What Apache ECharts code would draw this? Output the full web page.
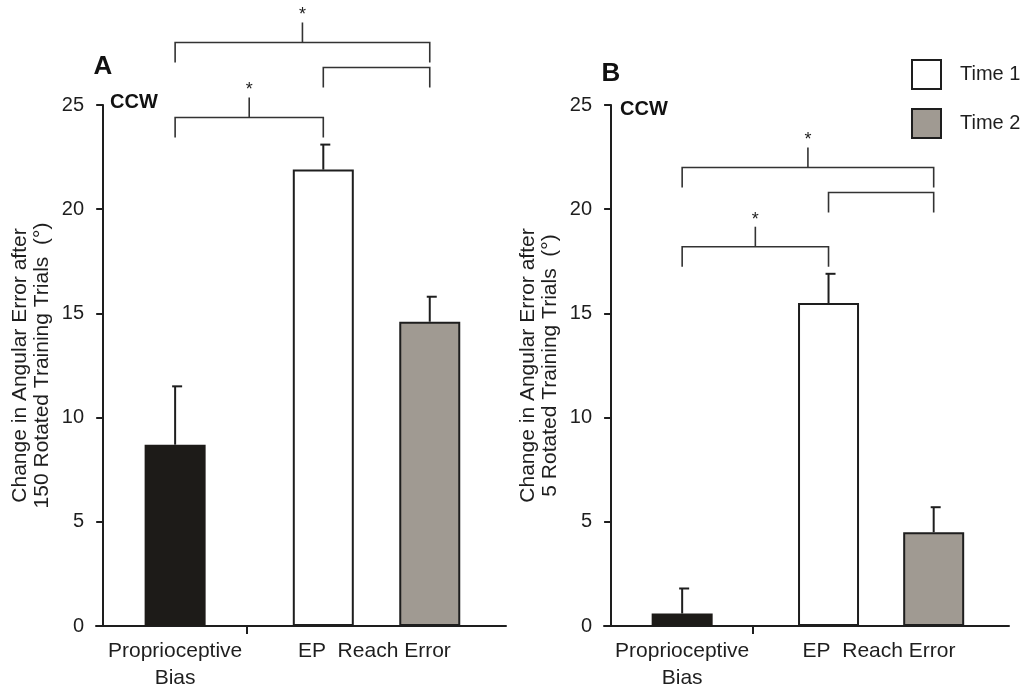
<html style="height: 100%">
	<head>
		<meta charset="utf-8">
	</head>
	<body style="height: 100%; width: 100%; margin: 0; background: #fff">
		<div id="container" style="height: 100%; width: 100%;"></div>
		<script type="text/javascript" src="https://cdn.jsdelivr.net/npm/echarts@6/dist/echarts.min.js"></script>
		<script type="text/javascript">
			// data
			var categories = ['Proprioceptive Bias', 'EP', 'Reach Error'];
			var xLabels = ['Proprioceptive\nBias', 'EP  Reach Error'];
			var seriesNames = ['Proprioceptive', 'Time 1', 'Time 2'];
			var legendNames = ['Time 1', 'Time 2'];

			var meansA = [8.7, 21.9, 14.6];
			var errA = [2.8, 1.2, 1.2];
			var meansB = [0.6, 15.5, 4.5];
			var errB = [1.2, 1.4, 1.2];

			// [from bar, to bar, level, star]
			var bracketsA = [[0, 2, 28.0, 1], [1, 2, 26.8, 0], [0, 1, 24.4, 1]];
			var bracketsB = [[0, 2, 22.0, 1], [1, 2, 20.8, 0], [0, 1, 18.2, 1]];

			var yTitleA = 'Change in Angular Error after\n150 Rotated Training Trials  (\u00b0)';
			var yTitleB = 'Change in Angular Error after\n5 Rotated Training Trials  (\u00b0)';

			// layout along the x value axis (bar slots, label spots, tick)
			var SLOT = [1, 3.06, 4.54];
			var LABEL_POS = [1, 3.77];
			var TICK_POS = [2];
			var colors = ['#1d1b18', '#ffffff', '#a09a92'];
			var ink = '#1e1e1e';
			var font = 'Liberation Sans, Arial, sans-serif';

			var dom = document.getElementById('container');
			var myChart = echarts.init(dom);

			function xAxisFor(i) {
				return {
					type: 'value', gridIndex: i, min: -0.1, max: 5.6,
					axisLine: {lineStyle: {color: ink, width: 2}},
					axisTick: {show: true, customValues: TICK_POS, length: 8, lineStyle: {color: ink, width: 2}},
					axisLabel: {
						customValues: LABEL_POS, margin: 12,
						fontSize: 21, lineHeight: 27, color: ink, fontFamily: font,
						formatter: function (v) {
							var k = LABEL_POS.indexOf(v);
							return k < 0 ? '' : xLabels[k];
						}
					},
					splitLine: {show: false}
				};
			}

			function yAxisFor(i, title) {
				return {
					type: 'value', gridIndex: i, min: 0, max: 25, interval: 5,
					axisLine: {show: true, onZero: true, lineStyle: {color: ink, width: 2}},
					axisTick: {show: true, length: 7, lineStyle: {color: ink, width: 2}},
					axisLabel: {fontSize: 20, margin: 12, color: ink, fontFamily: font},
					splitLine: {show: false},
					name: title, nameLocation: 'middle', nameGap: 43, nameRotate: 90,
					nameTextStyle: {fontSize: 21, lineHeight: 22, color: ink, fontFamily: font}
				};
			}

			function barSeries(i, means) {
				return categories.map(function (c, k) {
					return {
						name: seriesNames[k], type: 'bar',
						xAxisIndex: i, yAxisIndex: i,
						barWidth: 61, barGap: '-100%',
						itemStyle: {color: colors[k], borderColor: ink, borderWidth: k === 0 ? 0 : 2},
						data: [[SLOT[k], means[k]]]
					};
				});
			}

			function errorSeries(i, means, errs) {
				return {
					type: 'custom', xAxisIndex: i, yAxisIndex: i, z: 3, clip: false,
					data: means.map(function (m, k) { return [SLOT[k], m, errs[k]]; }),
					renderItem: function (params, api) {
						var x = api.value(0), m = api.value(1), e = api.value(2);
						var p0 = api.coord([x, m]);
						var p1 = api.coord([x, m + e]);
						var st = {stroke: ink, lineWidth: 2};
						return {
							type: 'group', children: [
								{type: 'line', shape: {x1: p0[0], y1: p0[1], x2: p1[0], y2: p1[1]}, style: st},
								{type: 'line', shape: {x1: p1[0] - 3, y1: p1[1], x2: p1[0] + 7, y2: p1[1]}, style: st}
							]
						};
					}
				};
			}

			function bracketSeries(i, rows) {
				return {
					type: 'custom', xAxisIndex: i, yAxisIndex: i, z: 3, clip: false,
					data: rows.map(function (r) { return [SLOT[r[0]], SLOT[r[1]], r[2], r[3]]; }),
					renderItem: function (params, api) {
						var a = api.coord([api.value(0), api.value(2)]);
						var b = api.coord([api.value(1), api.value(2)]);
						var st = {stroke: '#333', lineWidth: 1.6, fill: null};
						var kids = [{
							type: 'polyline',
							shape: {points: [[a[0], a[1] + 20], [a[0], a[1]], [b[0], b[1]], [b[0], b[1] + 20]]},
							style: st
						}];
						if (api.value(3)) {
							var mx = (a[0] + b[0]) / 2;
							kids.push({type: 'line', shape: {x1: mx, y1: a[1], x2: mx, y2: a[1] - 20}, style: st});
							kids.push({
								type: 'text', x: mx, y: a[1] - 18,
								style: {text: '*', fontSize: 18, fill: ink, fontFamily: font, align: 'center', verticalAlign: 'bottom'}
							});
						}
						return {type: 'group', children: kids};
					}
				};
			}

			function label(txt, x, y, size, align) {
				return {
					type: 'text', x: x, y: y,
					style: {text: txt, fontSize: size, fontWeight: 'bold', fill: '#111', fontFamily: font,
						align: align || 'center', verticalAlign: 'middle'}
				};
			}

			var option = {
				backgroundColor: '#fff',
				animation: false,
				grid: [
					{left: 96, width: 410, top: 105, bottom: 63, outerBoundsMode: 'none'},
					{left: 604, width: 405, top: 105, bottom: 63, outerBoundsMode: 'none'}
				],
				xAxis: [xAxisFor(0), xAxisFor(1)],
				yAxis: [yAxisFor(0, yTitleA), yAxisFor(1, yTitleB)],
				legend: {
					data: legendNames, orient: 'vertical', left: 911, top: 59,
					itemWidth: 29, itemHeight: 29, itemGap: 18, padding: 0,
					icon: 'rect',
					itemStyle: {borderColor: ink, borderWidth: 2},
					textStyle: {fontSize: 20, color: ink, fontFamily: font, padding: [0, 0, 0, 14]}
				},
				graphic: [
					label('A', 103, 67, 26),
					label('B', 611, 74, 26),
					label('CCW', 110, 102, 20, 'left'),
					label('CCW', 620, 109, 20, 'left')
				],
				series: [].concat(
					barSeries(0, meansA), [errorSeries(0, meansA, errA), bracketSeries(0, bracketsA)],
					barSeries(1, meansB), [errorSeries(1, meansB, errB), bracketSeries(1, bracketsB)]
				)
			};

			if (option && typeof option === 'object') {
				myChart.setOption(option);
			}
		</script>
	</body>
</html>
